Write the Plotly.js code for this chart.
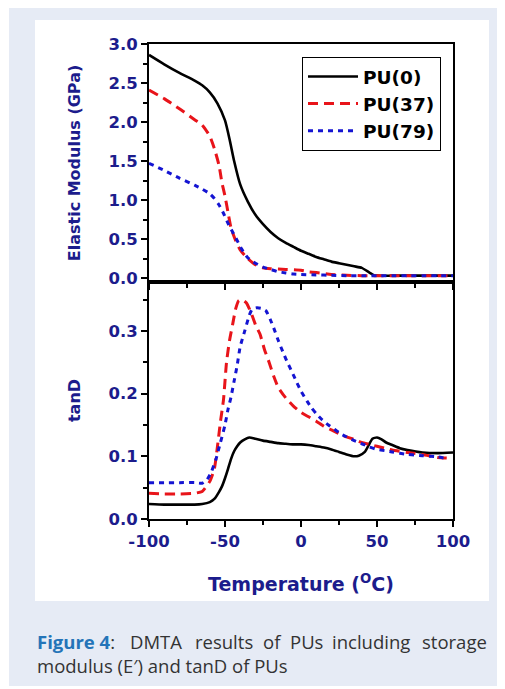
<!DOCTYPE html>
<html>
<head>
<meta charset="utf-8">
<script src="https://cdn.plot.ly/plotly-3.0.1.min.js"></script>
<style>
html,body{margin:0;padding:0;background:#ffffff;}
#chart{width:505px;height:689px;}
</style>
</head>
<body>
<div id="chart"></div>
<script>
// ---------- Data ----------
// Elastic modulus (GPa) vs temperature (°C)
const modT0 = [-100,-90,-80,-70,-65,-60,-55,-50,-47,-44,-40,-35,-30,-25,-20,-15,-10,-5,0,5,10,15,20,25,30,35,40,45,48,50,60,70,80,90,100];
const modPU0 = [2.86,2.74,2.63,2.53,2.47,2.38,2.24,2.02,1.78,1.50,1.20,0.98,0.81,0.69,0.59,0.51,0.45,0.40,0.35,0.31,0.27,0.24,0.21,0.19,0.17,0.15,0.13,0.07,0.035,0.03,0.03,0.03,0.03,0.03,0.03];

const modT37 = [-100,-90,-80,-70,-65,-60,-57,-54,-52,-50,-48,-46,-43,-40,-35,-30,-25,-20,-10,0,5,10,20,30,40,50,60,70,80,90,100];
const modPU37 = [2.41,2.30,2.17,2.03,1.96,1.82,1.66,1.45,1.22,1.05,0.84,0.64,0.48,0.36,0.25,0.17,0.13,0.12,0.11,0.10,0.08,0.07,0.045,0.035,0.03,0.03,0.03,0.03,0.03,0.03,0.03];

const modT79 = [-100,-90,-80,-70,-65,-60,-57,-54,-51,-48,-45,-42,-39,-35,-30,-25,-20,-15,-10,-5,0,10,20,30,40,50,60,70,80,90,100];
const modPU79 = [1.47,1.38,1.28,1.19,1.14,1.08,1.02,0.94,0.83,0.70,0.59,0.48,0.37,0.26,0.19,0.14,0.11,0.08,0.065,0.05,0.045,0.04,0.035,0.03,0.03,0.03,0.03,0.03,0.03,0.03,0.03];

// tanD vs temperature (°C)
const tanT0 = [-100,-90,-80,-70,-65,-60,-57,-54,-52,-50,-48,-46,-44,-42,-40,-37,-34,-30,-25,-20,-15,-10,-5,0,5,10,15,20,25,30,35,38,42,45,47,50,53,56,60,65,70,80,90,100];
const tanPU0 = [0.024,0.023,0.023,0.023,0.024,0.027,0.032,0.043,0.052,0.065,0.080,0.096,0.108,0.116,0.122,0.127,0.130,0.128,0.125,0.123,0.121,0.120,0.119,0.119,0.118,0.116,0.114,0.111,0.107,0.103,0.100,0.101,0.107,0.120,0.128,0.130,0.127,0.122,0.118,0.113,0.110,0.106,0.105,0.106];

const tanT37 = [-100,-90,-80,-70,-65,-60,-57,-55,-53,-51,-49,-47,-45,-43,-41,-39,-36,-33,-30,-27,-24,-21,-18,-15,-10,-5,0,5,10,15,20,25,30,35,40,45,50,55,60,70,80,90,97];
const tanPU37 = [0.041,0.040,0.040,0.041,0.044,0.060,0.080,0.115,0.155,0.190,0.250,0.285,0.310,0.335,0.348,0.350,0.345,0.330,0.310,0.295,0.270,0.250,0.228,0.210,0.193,0.180,0.170,0.163,0.156,0.148,0.142,0.136,0.131,0.127,0.122,0.119,0.116,0.113,0.110,0.106,0.103,0.098,0.097];

const tanT79 = [-100,-90,-80,-70,-65,-62,-59,-56,-53,-50,-48,-46,-44,-42,-40,-37,-34,-32,-29,-26,-23,-20,-18,-15,-12,-9,-6,-3,0,4,7,10,14,18,22,26,30,35,40,45,50,55,60,70,80,90,97];
const tanPU79 = [0.058,0.058,0.058,0.058,0.057,0.062,0.075,0.095,0.122,0.150,0.175,0.195,0.220,0.245,0.275,0.300,0.325,0.335,0.337,0.336,0.332,0.317,0.305,0.285,0.267,0.250,0.235,0.219,0.204,0.188,0.177,0.168,0.158,0.150,0.143,0.136,0.131,0.125,0.120,0.115,0.111,0.109,0.107,0.103,0.101,0.099,0.096];

const seriesNames = ['PU(0)','PU(37)','PU(79)'];
const xTickVals = [-100,-50,0,50,100];
const xTickText = ['-100','-50','0','50','100'];
const modTickVals = [0,0.5,1.0,1.5,2.0,2.5,3.0];
const modTickText = ['0.0','0.5','1.0','1.5','2.0','2.5','3.0'];
const tanTickVals = [0,0.1,0.2,0.3];
const tanTickText = ['0.0','0.1','0.2','0.3'];

// ---------- Styles ----------
const NAVY = '#1c1c8c';
const FONT = 'DejaVu Sans, Verdana, sans-serif';
const styles = [
  {color:'#000000', width:2.6, dash:'solid'},
  {color:'#e8141a', width:3, dash:'10px,6px'},
  {color:'#1414d2', width:3, dash:'5px,5px'}
];

function line(i){ return {color:styles[i].color, width:styles[i].width, dash:styles[i].dash, shape:'spline', smoothing:0.5}; }

const traces = [
  {x:modT0, y:modPU0, xaxis:'x2', yaxis:'y2', name:seriesNames[0], legendgroup:'a', line:line(0), mode:'lines'},
  {x:modT37, y:modPU37, xaxis:'x2', yaxis:'y2', name:seriesNames[1], legendgroup:'b', line:line(1), mode:'lines'},
  {x:modT79, y:modPU79, xaxis:'x2', yaxis:'y2', name:seriesNames[2], legendgroup:'c', line:line(2), mode:'lines'},
  {x:tanT0, y:tanPU0, xaxis:'x', yaxis:'y', name:seriesNames[0], legendgroup:'a', showlegend:false, line:line(0), mode:'lines'},
  {x:tanT37, y:tanPU37, xaxis:'x', yaxis:'y', name:seriesNames[1], legendgroup:'b', showlegend:false, line:line(1), mode:'lines'},
  {x:tanT79, y:tanPU79, xaxis:'x', yaxis:'y', name:seriesNames[2], legendgroup:'c', showlegend:false, line:line(2), mode:'lines'}
];

// pixel -> paper helpers for decorative layout items
const L = 149, R = 453, T = 44, B = 519;
const px = v => (v - L) / (R - L);
const py = v => (B - v) / (B - T);

const tickFont = {family:FONT, size:16.5, color:NAVY, weight:700};
const titleFont = {family:FONT, size:16, color:NAVY, weight:700};
const splitY = (B - 282) / (B - T);

const axisCommon = {
  showline:true, linecolor:'#000', linewidth:2, mirror:true,
  ticks:'outside', ticklen:6, tickwidth:2, tickcolor:'#000',
  showgrid:false, zeroline:false, tickfont:tickFont
};

const captionFont = {family:'Open Sans, Noto Sans, sans-serif', size:18.5, color:'#333333'};
const capY1 = py(641), capY2 = py(665);
function cap(text, x, anchor, y){ return {xref:'paper', yref:'paper', x:px(x), y:y, xanchor:anchor||'left', yanchor:'middle', text:text, showarrow:false, font:captionFont, borderpad:0}; }

const layout = {
  width:505, height:689,
  margin:{l:L, r:505-R, t:T, b:689-B},
  paper_bgcolor:'#ffffff', plot_bgcolor:'#ffffff',
  showlegend:true,
  legend:{x:px(302), y:py(57), xanchor:'left', yanchor:'top', bgcolor:'#ffffff', bordercolor:'#000', borderwidth:1,
          font:{family:FONT, size:18.5, color:'#000', weight:700}, tracegroupgap:0, itemwidth:50},
  xaxis: Object.assign({}, axisCommon, {domain:[0,1], anchor:'y', range:[-100,100], tickvals:xTickVals, ticktext:xTickText,
          minor:{tickvals:[-75,-25,25,75], ticklen:4, tickwidth:2, tickcolor:'#000', ticks:'outside'},
          title:{text:'Temperature (<sup>O</sup>C)', font:{family:FONT, size:19, color:NAVY, weight:700}, standoff:28}}),
  xaxis2: Object.assign({}, axisCommon, {domain:[0,1], anchor:'y2', matches:'x', range:[-100,100], tickvals:xTickVals, showticklabels:false,
          minor:{tickvals:[-75,-25,25,75], ticklen:4, tickwidth:2, tickcolor:'#000', ticks:'outside'}}),
  yaxis: Object.assign({}, axisCommon, {domain:[0, splitY], anchor:'x', range:[0, 0.378], tickvals:tanTickVals, ticktext:tanTickText,
          minor:{tickvals:[0.05,0.15,0.25,0.35], ticklen:4, tickwidth:2, tickcolor:'#000', ticks:'outside'},
          title:{text:'tanD', font:titleFont, standoff:24}}),
  yaxis2: Object.assign({}, axisCommon, {domain:[splitY, 1], anchor:'x2', range:[-0.0513, 3.0], tickvals:modTickVals, ticktext:modTickText,
          minor:{tickvals:[0.25,0.75,1.25,1.75,2.25,2.75], ticklen:4, tickwidth:2, tickcolor:'#000', ticks:'outside'},
          title:{text:'Elastic Modulus (GPa)', font:titleFont, standoff:24}}),
  shapes:[
    {type:'rect', xref:'paper', yref:'paper', x0:px(9), x1:px(497), y0:py(686), y1:py(8), fillcolor:'#e6ebf5', line:{width:0}, layer:'below'},
    {type:'rect', xref:'paper', yref:'paper', x0:px(35), x1:px(489), y0:py(601), y1:py(20), fillcolor:'#ffffff', line:{width:0}, layer:'below'}
  ],
  annotations:[
    cap('<span style="color:#2474b8"><b>Figure 4</b></span>:', 36, 'left', capY1),
    cap('DMTA', 129, 'left', capY1),
    cap('results', 194, 'left', capY1),
    cap('of', 262, 'left', capY1),
    cap('PUs', 289, 'left', capY1),
    cap('including', 331, 'left', capY1),
    cap('storage', 488, 'right', capY1),
    cap('modulus (E\u2032) and tanD of PUs', 36, 'left', capY2)
  ]
};

Plotly.newPlot('chart', traces, layout, {displayModeBar:false, staticPlot:true});
</script>
</body>
</html>
